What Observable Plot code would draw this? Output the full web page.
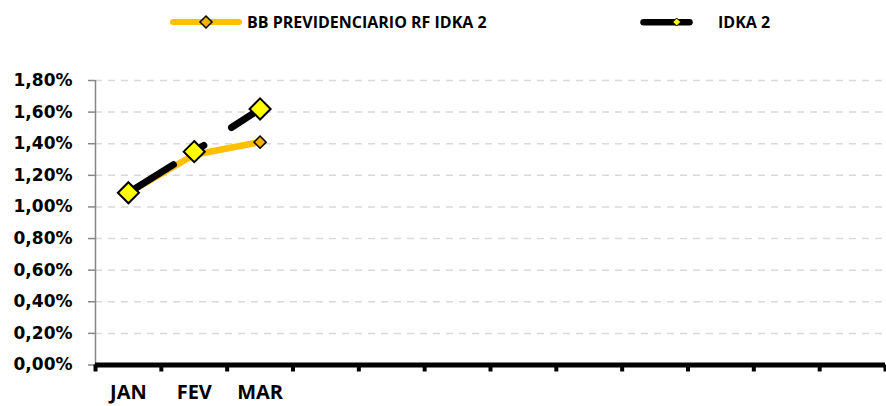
<!DOCTYPE html>
<html>
<head>
<meta charset="utf-8">
<script src="https://cdn.jsdelivr.net/npm/d3@7"></script>
<script src="https://cdn.jsdelivr.net/npm/@observablehq/plot@0.6"></script>
<style>
  html, body { margin: 0; padding: 0; background: #fff; }
  #wrap { width: 886px; height: 406px; overflow: hidden; position: relative; }
  #legend { display: block; height: 44px; line-height: 0; }
  #legend svg { display: block; }
  #legend text { font-family: "Open Sans", sans-serif; font-weight: bold; font-size: 16px; fill: #000; }
  #chart svg { display: block; }
</style>
</head>
<body>
<div id="wrap">
  <div id="legend"></div>
  <div id="chart"></div>
</div>
<script>
// ---- data ----
const seriesNames = ["BB PREVIDENCIARIO RF IDKA 2", "IDKA 2"];
const xLabels = ["JAN", "FEV", "MAR", "", "", "", "", "", "", "", "", ""];
const bbValues = [1.09, 1.33, 1.41];      // % per month
const idkaValues = [1.09, 1.35, 1.62];    // % per month
const yTicks = [0, 0.2, 0.4, 0.6, 0.8, 1.0, 1.2, 1.4, 1.6, 1.8];

// ---- colours ----
const orange = "#FFC000";
const orangeMarker = "#F5B000";
const yellow = "#FFFF00";

// ---- legend ----
const legendSvg = `
<svg width="886" height="44" xmlns="http://www.w3.org/2000/svg">
  <line x1="173" y1="22" x2="239" y2="22" stroke="${orange}" stroke-width="6" stroke-linecap="round"/>
  <polygon points="206,16 212,22 206,28 200,22" fill="${orangeMarker}" stroke="#000" stroke-width="1.5"/>
  <text x="247" y="27.5">${seriesNames[0]}</text>
  <line x1="643.5" y1="22.3" x2="689.5" y2="22.3" stroke="#000" stroke-width="6.5" stroke-linecap="round"/>
  <polygon points="676.7,18 680.7,22 676.7,26 672.7,22" fill="${yellow}" stroke="#000" stroke-width="1"/>
  <text x="718" y="27.5">${seriesNames[1]}</text>
</svg>`;
document.getElementById("legend").innerHTML = legendSvg;

// ---- chart ----
const bb = bbValues.map((v, i) => ({x: i + 0.5, y: v}));
const idka = idkaValues.map((v, i) => ({x: i + 0.5, y: v}));
const boundaries = d3.range(xLabels.length + 1);
const centers = xLabels.map((d, i) => i + 0.5);
const fmt = d => d.toFixed(2).replace(".", ",") + "%";

const chart = Plot.plot({
  width: 886,
  height: 362,
  marginTop: 36,
  marginBottom: 41.5,
  marginLeft: 95,
  marginRight: 1,
  style: {background: "#fff"},
  x: {type: "linear", domain: [0, xLabels.length], axis: null},
  y: {type: "linear", domain: [0, 1.8], axis: null},
  marks: [
    Plot.gridY(yTicks.filter(d => d > 0), {stroke: "#d9d9d9", strokeOpacity: 1, strokeWidth: 1.5, strokeDasharray: "7,6"}),
    Plot.axisY(yTicks, {
      tickSize: 7, tickPadding: 16, tickFormat: fmt,
      stroke: "#868686", strokeWidth: 1.5, fill: "#000",
      fontSize: 17, fontWeight: "bold", fontFamily: "DejaVu Sans", label: null
    }),
    Plot.ruleX([0], {stroke: "#868686", strokeWidth: 1.5}),
    Plot.axisX(boundaries, {tickSize: 7, stroke: "#000", strokeWidth: 4, tickFormat: () => "", label: null}),
    Plot.axisX(centers, {
      tickSize: 0, tickPadding: 20, tickFormat: d => xLabels[Math.floor(d)],
      fill: "#000", fontSize: 20, fontWeight: "bold", fontFamily: "Open Sans", label: null
    }),
    Plot.ruleY([0], {stroke: "#000", strokeWidth: 5}),
    Plot.line(bb, {x: "x", y: "y", stroke: orange, strokeWidth: 6.5, strokeLinejoin: "round", strokeLinecap: "round"}),
    Plot.dot(bb, {x: "x", y: "y", symbol: "diamond2", r: 5.5, fill: orangeMarker, stroke: "#000", strokeWidth: 1.5}),
    Plot.line(idka, {x: "x", y: "y", stroke: "#000", strokeWidth: 7, strokeLinejoin: "round", strokeLinecap: "round", strokeDasharray: "53,33,3,33"}),
    Plot.dot(idka, {x: "x", y: "y", symbol: "diamond2", r: 9.5, fill: yellow, stroke: "#000", strokeWidth: 2})
  ]
});
document.getElementById("chart").appendChild(chart);
</script>
</body>
</html>
